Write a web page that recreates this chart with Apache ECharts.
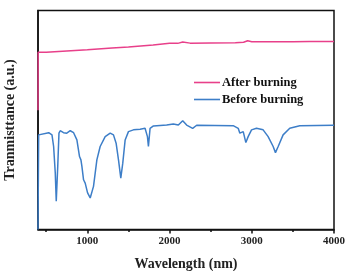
<!DOCTYPE html>
<html><head><meta charset="utf-8">
<script src="https://cdn.jsdelivr.net/npm/echarts@6/dist/echarts.min.js"></script>
<style>html,body{margin:0;padding:0;background:#fff}#c{width:347px;height:271px}</style>
</head><body><div id="c"></div>
<script>
var afterX = [400, 402, 500, 700, 1000, 1300, 1500, 1800, 2000, 2100, 2160, 2250, 2500, 2800, 2900, 2950, 3000, 3300, 3500, 3700, 3800, 4000];
var afterY = [54.5, 80.9, 80.9, 81.4, 82.1, 82.9, 83.3, 84.3, 85.1, 85.0, 85.6, 85.1, 85.2, 85.3, 85.5, 86.2, 85.7, 85.7, 85.7, 85.9, 85.8, 85.9];

var beforeX = [400, 408, 530, 570, 590, 610, 622, 640, 655, 670, 710, 750, 792, 833, 873, 905, 922, 934, 954, 974, 1003, 1035, 1075, 1116, 1156, 1217, 1278, 1318, 1350, 1379, 1407, 1431, 1460, 1500, 1561, 1642, 1702, 1731, 1743, 1763, 1804, 1965, 2046, 2107, 2160, 2208, 2281, 2330, 2774, 2835, 2855, 2896, 2928, 2956, 2997, 3057, 3138, 3199, 3260, 3288, 3321, 3381, 3462, 3584, 4000];
var beforeY = [0, 43.2, 44.2, 43.2, 37.9, 25.8, 12.9, 28.8, 44.0, 45.1, 44.2, 44.0, 45.1, 44.2, 40.9, 33.3, 31.8, 28.8, 22.7, 21.2, 16.7, 14.4, 19.7, 31.8, 37.9, 42.4, 44.0, 43.2, 39.4, 31.8, 23.5, 30.3, 40.9, 44.7, 45.5, 45.8, 46.2, 42.4, 37.9, 46.2, 47.3, 47.7, 48.2, 47.7, 49.7, 47.7, 46.2, 47.6, 47.4, 46.2, 44.0, 44.7, 39.7, 42.4, 45.5, 46.2, 45.5, 42.4, 37.9, 35.1, 37.9, 43.2, 46.2, 47.4, 47.6];

var majorTicks = [1000, 2000, 3000, 4000];
var minorTicks = [500, 1500, 2500, 3500];
var seriesNames = ['After burning', 'Before burning'];
var xTitle = 'Wavelength (nm)';
var yTitle = 'Tranmisttance (a.u.)';

function zip(xs, ys) { return xs.map(function (x, i) { return [x, ys[i]]; }); }

var font = '"Liberation Serif", "Times New Roman", serif';
var chart = echarts.init(document.getElementById('c'), null, { renderer: 'canvas' });
chart.setOption({
  animation: false,
  backgroundColor: '#fff',
  grid: { left: 38, right: 13, top: 10.5, bottom: 41.5, containLabel: false, outerBoundsMode: 'none', show: true, borderColor: '#111', borderWidth: 1.5, backgroundColor: 'transparent' },
  legend: {
    orient: 'vertical', left: 189, top: 71, itemWidth: 26, itemHeight: 10, itemGap: 4,
    icon: 'path://M0,4.2 L26,4.2 L26,5.8 L0,5.8 Z',
    textStyle: { fontFamily: font, fontWeight: 'bold', fontSize: 12.5, color: '#111', padding: [0, 0, 0, -3] },
    data: seriesNames
  },
  xAxis: [{
    type: 'value', min: 400, max: 4000,
    axisLine: { show: true, lineStyle: { color: '#111', width: 1.5 } },
    axisTick: { show: true, customValues: majorTicks, length: 4, lineStyle: { color: '#111', width: 1.5 } },
    axisLabel: { customValues: majorTicks, formatter: function (v) { return String(v); }, margin: 6, fontFamily: font, fontWeight: 'bold', fontSize: 11, color: '#222' },
    splitLine: { show: false },
    name: xTitle, nameLocation: 'middle', nameGap: 28,
    nameTextStyle: { fontFamily: font, fontWeight: 'bold', fontSize: 14, color: '#222' }
  }, {
    type: 'value', min: 400, max: 4000, position: 'bottom',
    axisLine: { show: false },
    axisTick: { show: true, customValues: minorTicks, length: 2.5, lineStyle: { color: '#111', width: 1.5 } },
    axisLabel: { show: false }, splitLine: { show: false }
  }],
  yAxis: {
    type: 'value', min: 0, max: 100,
    axisLine: { show: true, lineStyle: { color: '#111', width: 1.5 } },
    axisTick: { show: false }, axisLabel: { show: false }, splitLine: { show: false },
    name: yTitle, nameLocation: 'middle', nameGap: 21, nameRotate: 90,
    nameTextStyle: { fontFamily: font, fontWeight: 'bold', fontSize: 14, color: '#222' }
  },
  series: [{
    name: seriesNames[0], type: 'line', showSymbol: false, symbol: 'none',
    lineStyle: { color: '#e8408a', width: 1.5 }, itemStyle: { color: '#e8408a' },
    data: zip(afterX, afterY)
  }, {
    name: seriesNames[1], type: 'line', showSymbol: false, symbol: 'none',
    lineStyle: { color: '#3d7ec8', width: 1.5 }, itemStyle: { color: '#3d7ec8' },
    data: zip(beforeX, beforeY)
  }]
});
</script></body></html>
